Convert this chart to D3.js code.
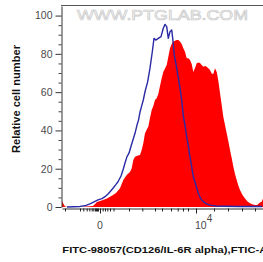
<!DOCTYPE html>
<html><head><meta charset="utf-8">
<script src="https://cdn.jsdelivr.net/npm/d3@7"></script>
<style>
html,body{margin:0;padding:0;background:#fff;}
svg{display:block;}
text{font-family:Arial,"Liberation Sans",sans-serif;}
</style></head>
<body>
<svg id="c" width="263" height="262"></svg>
<script>
// channel positions (histogram bins on the display scale) and relative cell number
const redX = [0,1,3,6,18,24,31,35,41,45,51,54,58,61.3,64.7,68,69.7,71.3,73,76,78,79.7,81.3,83,86.3,88,89.7,91.3,93,94.7,96.3,98,99.7,101.3,104.7,106.3,108,109.7,111.3,114.7,116.3,118,119.7,121.3,123,124.7,126.3,128,129.7,131.3,133,134.7,136.3,138,139.7,141.3,143,144.7,146.3,148,149.7,151.3,153,154.7,155.3,156.5,158,159.7,161.3,163,164.7,166.3,168,169.7,171.3,173,174.7,176.3,178,180.5,183,185.5,188,191,193,195,196.3,198,199.7,201];
const redY = [3.1,2.1,0.3,0,0,0.3,0.5,2.6,3.7,4.5,6.3,7.3,9.8,14.1,16.7,18.3,20.2,24.6,26.3,26.9,27.2,29.8,33.3,38.5,42,46.5,50.7,52.8,55.9,56.8,59,63.2,67.2,70.5,74.2,78.4,82.9,85.1,86.4,87.2,87.2,86.4,85.1,82.9,81.1,77.7,77.7,76.8,74.7,70.5,72.6,75.1,75.5,75.2,74.2,73.3,73.7,73.3,72.5,71.6,69.8,69.5,72.5,70.5,69,65.3,59.6,53.3,47.2,42.8,38.5,34.5,29.8,25.6,21.1,17.2,14.1,11.2,8.9,6.3,4.5,2.9,1.9,1.3,1,1,1.6,2.4,2.8,4.5];
const blueX = [5,18,24,28,33,36,40,43,46,48,51,54,56,59,61,63,65,67,68.5,70,73,75,76.5,78,79.7,81.3,83,85.7,88,90.3,92,93.7,96.3,99,101.3,103,104.7,106.3,108,109.7,110.7,112.3,114.7,116.3,118,119.7,121.3,123,124.7,126.3,128,129.7,131.3,133,134.7,136.3,138,139.7,141.3,144.7,148,154,161,178,200];
const blueY = [0,0.3,0.8,1.6,2.9,3.7,4.4,5.4,6.8,8.0,9.8,11.8,13.2,16.2,19.3,23,26.3,28.1,30.8,33.4,38.5,42.8,45.4,49.6,52.8,55.9,60.2,65.5,72.5,81.1,88.1,87.2,88.1,89,93.4,95.4,94.2,88.1,91.6,92.5,88.1,79.4,72.5,67.4,62.2,55.9,47.5,42.8,36.7,31.9,26.1,21,15.8,13.1,9.9,7.2,5.2,3.7,2.8,1.6,1.0,0.5,0.4,0.3,0.3];

const yMajor = [0,20,40,60,80,100];
const yMinor = [5,10,15,25,30,35,45,50,55,65,70,75,85,90,95];
const xMajor = [38,134];
const xMajorLabels = ["0","10"];
const xMajorSup = ["","4"];
const xMinor = [3,18,21.3,24.7,27.3,29.7,31.3,33,34,35,36,40.7,43,45.3,48,51.5,67,80.3,93,100,109,115.7,121,126,152,166,180,193];
const xTitle = "FITC-98057(CD126/IL-6R alpha),FTIC-A";
const yTitle = "Relative cell number";
const watermark = "WWW.PTGLAB.COM";

const svg = d3.select("#c");
const x = d3.scaleLinear().domain([0,201]).range([62,263]);
const y = d3.scaleLinear().domain([0,105]).range([207,6]);

svg.append("defs").append("clipPath").attr("id","pc")
  .append("rect").attr("x",62).attr("y",0).attr("width",201).attr("height",208);

// watermark
svg.append("text").attr("x",77).attr("y",20)
  .attr("font-size",14.5).attr("textLength",171).attr("lengthAdjust","spacingAndGlyphs")
  .attr("fill","#ffffff").attr("stroke","#c9c9c9").attr("stroke-width",0.7)
  .text(watermark);

const g = svg.append("g").attr("clip-path","url(#pc)");
const red = redX.map((v,i)=>[v,redY[i]]);
const blue = blueX.map((v,i)=>[v,blueY[i]]);
g.append("path").datum(red)
  .attr("d", d3.area().x(d=>x(d[0])).y0(y(0)).y1(d=>y(d[1])))
  .attr("fill","#ff0000");
g.append("path").datum(blue)
  .attr("d", d3.line().x(d=>x(d[0])).y(d=>y(d[1])))
  .attr("fill","none").attr("stroke","#2a2aa6").attr("stroke-width",1.4).attr("stroke-linejoin","round");

// top frame
svg.append("line").attr("x1",61).attr("x2",263).attr("y1",5.5).attr("y2",5.5)
  .attr("stroke","#555").attr("stroke-width",1);

// y axis
const ya = svg.append("g").attr("transform","translate(61.5,0)")
  .call(d3.axisLeft(y).tickValues(yMajor).tickSize(6).tickSizeOuter(0).tickPadding(3).tickFormat(d3.format("d")));
ya.select(".domain").attr("stroke","#333");
ya.selectAll(".tick line").attr("stroke","#333");
ya.selectAll(".tick text").attr("font-size",10.5).attr("fill","#4a4a4a").attr("font-family","Arial, 'Liberation Sans', sans-serif");
const yb = svg.append("g").attr("transform","translate(61.5,0)")
  .call(d3.axisLeft(y).tickValues(yMinor).tickSize(3).tickSizeOuter(0).tickFormat(""));
yb.select(".domain").remove();
yb.selectAll(".tick line").attr("stroke","#444");

// x axis
const xa = svg.append("g").attr("transform","translate(0,208.5)")
  .call(d3.axisBottom(x).tickValues(xMajor).tickSize(5).tickSizeOuter(0).tickFormat(""));
xa.select(".domain").attr("stroke","#333");
xa.selectAll(".tick line").attr("stroke","#222");
const xb = svg.append("g").attr("transform","translate(0,208.5)")
  .call(d3.axisBottom(x).tickValues(xMinor).tickSize(3).tickSizeOuter(0).tickFormat(""));
xb.select(".domain").remove();
xb.selectAll(".tick line").attr("stroke","#222");

xMajor.forEach((v,i)=>{
  const t = svg.append("text").attr("y",229).attr("font-size",10.5).attr("fill","#4a4a4a");
  if (xMajorSup[i]) {
    t.attr("x",x(v)-1).attr("text-anchor","start").text(xMajorLabels[i]);
    t.append("tspan").attr("dy",-7.5).attr("font-size",10).text(xMajorSup[i]);
  } else {
    t.attr("x",x(v)).attr("text-anchor","middle").text(xMajorLabels[i]);
  }
});

// titles
svg.append("text").attr("x",62.3).attr("y",253).attr("font-size",9.5).attr("font-weight","bold")
  .attr("textLength",205).attr("lengthAdjust","spacingAndGlyphs").attr("fill","#111").text(xTitle);
svg.append("text").attr("transform","translate(20,99) rotate(-90)").attr("text-anchor","middle")
  .attr("font-size",10).attr("font-weight","bold").attr("textLength",108).attr("lengthAdjust","spacingAndGlyphs")
  .attr("fill","#111").text(yTitle);
</script>
</body></html>
